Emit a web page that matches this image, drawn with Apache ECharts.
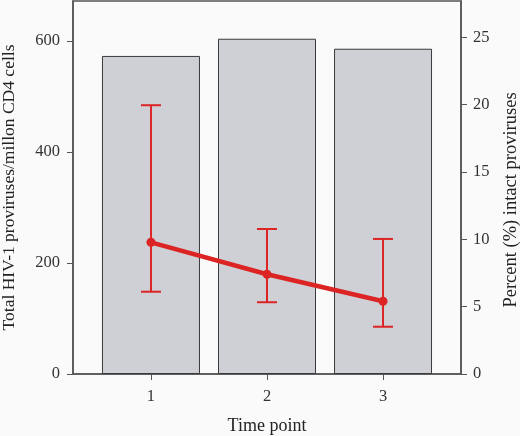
<!DOCTYPE html>
<html>
<head>
<meta charset="utf-8">
<script src="https://cdn.jsdelivr.net/npm/echarts@6/dist/echarts.min.js"></script>
<style>
html, body { margin: 0; padding: 0; background: #fafafa; }
#main { width: 520px; height: 436px; }
</style>
</head>
<body>
<div id="main"></div>
<script>
var timePoints = [1, 2, 3];
var totalProviruses = [573, 604, 586];
var intactPercent = [9.78, 7.41, 5.40];
var intactLow = [6.11, 5.33, 3.51];
var intactHigh = [19.96, 10.77, 10.03];
var leftTicks = [0, 200, 400, 600];
var rightTicks = [0, 5, 10, 15, 20, 25];

var serif = 'Liberation Serif';
var red = '#dc2424';

var chart = echarts.init(document.getElementById('main'));

var barData = timePoints.map(function (t, i) { return [t, totalProviruses[i]]; });
var lineData = timePoints.map(function (t, i) { return [t, intactPercent[i]]; });
var errData = timePoints.map(function (t, i) { return [t, intactLow[i], intactHigh[i]]; });

function seg(x1, y1, x2, y2) {
    return { type: 'line', shape: { x1: x1, y1: y1, x2: x2, y2: y2 }, style: { stroke: red, lineWidth: 2, fill: null } };
}

option = {
    backgroundColor: '#fafafa',
    animation: false,
    grid: {
        left: 73,
        right: 59,
        top: 1,
        bottom: 62,
        outerBoundsMode: 'none',
        containLabel: false,
        show: true,
        borderColor: '#555',
        borderWidth: 1.5,
        backgroundColor: '#fafafa'
    },
    xAxis: {
        type: 'value',
        min: 0.328,
        max: 3.672,
        name: 'Time point',
        nameLocation: 'middle',
        nameGap: 43,
        nameTextStyle: { fontFamily: serif, fontSize: 18, color: '#222' },
        axisLine: { show: true, lineStyle: { color: '#555', width: 1.5 } },
        axisTick: { show: true, length: 6, customValues: timePoints, lineStyle: { color: '#555' } },
        axisLabel: { customValues: timePoints, margin: 14, fontFamily: serif, fontSize: 16.5, color: '#333' },
        splitLine: { show: false }
    },
    yAxis: [
        {
            type: 'value',
            min: 0,
            max: 672,
            name: 'Total HIV-1 proviruses/millon CD4 cells',
            nameLocation: 'middle',
            nameRotate: 90,
            nameGap: 55,
            nameTextStyle: { fontFamily: serif, fontSize: 17.5, color: '#222' },
            axisLine: { show: true, lineStyle: { color: '#555', width: 1.5 } },
            axisTick: { show: true, length: 6, customValues: leftTicks, lineStyle: { color: '#555' } },
            axisLabel: { customValues: leftTicks, margin: 13, fontFamily: serif, fontSize: 16.5, color: '#333' },
            splitLine: { show: false }
        },
        {
            type: 'value',
            min: 0,
            max: 27.7,
            position: 'right',
            name: 'Percent (%) intact proviruses',
            nameLocation: 'middle',
            nameRotate: 90,
            nameGap: 41,
            nameTextStyle: { fontFamily: serif, fontSize: 18.5, color: '#222', padding: [0, 25, 0, 0] },
            axisLine: { show: true, lineStyle: { color: '#555', width: 1.5 } },
            axisTick: { show: true, length: 6, customValues: rightTicks, lineStyle: { color: '#555' } },
            axisLabel: { customValues: rightTicks, margin: 12, fontFamily: serif, fontSize: 16.5, color: '#333' },
            splitLine: { show: false }
        }
    ],
    series: [
        {
            name: 'Total',
            type: 'bar',
            yAxisIndex: 0,
            barWidth: 98,
            z: 1,
            itemStyle: { color: '#cfd0d5', borderColor: '#3a3a3a', borderWidth: 1 },
            data: barData
        },
        {
            name: 'Error',
            type: 'custom',
            coordinateSystem: 'cartesian2d',
            xAxisIndex: 0,
            yAxisIndex: 1,
            z: 5,
            renderItem: function (params, api) {
                var x = api.value(0);
                var lo = api.coord([x, api.value(1)]);
                var hi = api.coord([x, api.value(2)]);
                var half = 10;
                return {
                    type: 'group',
                    children: [
                        seg(hi[0], hi[1], lo[0], lo[1]),
                        seg(hi[0] - half, hi[1], hi[0] + half, hi[1]),
                        seg(lo[0] - half, lo[1], lo[0] + half, lo[1])
                    ]
                };
            },
            encode: { x: 0, y: [1, 2] },
            data: errData
        },
        {
            name: 'Intact',
            type: 'line',
            yAxisIndex: 1,
            z: 6,
            symbol: 'circle',
            symbolSize: 9,
            lineStyle: { color: red, width: 4.5 },
            itemStyle: { color: red },
            data: lineData
        }
    ]
};
chart.setOption(option);
</script>
</body>
</html>
